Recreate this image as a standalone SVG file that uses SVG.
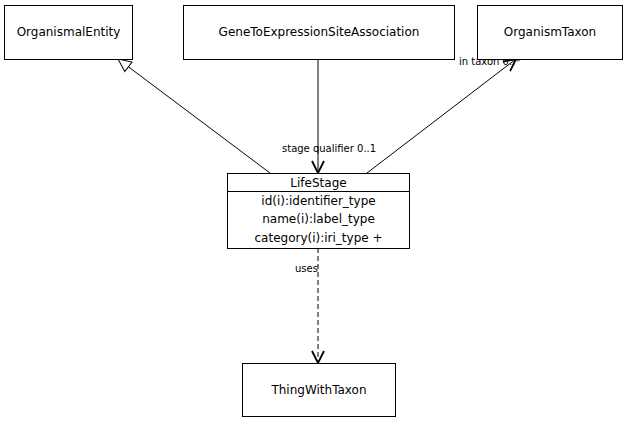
<svg xmlns="http://www.w3.org/2000/svg" width="628" height="423" viewBox="0 0 628 423">
<style>
.box{fill:#fff;stroke:#000;stroke-width:1}
.t{font-family:"DejaVu Sans",sans-serif;font-size:12px;fill:#000;text-anchor:middle}
.l{font-family:"DejaVu Sans",sans-serif;font-size:10px;fill:#000}
.e{fill:none;stroke:#000;stroke-width:1}
</style>
<defs>
<marker id="tri" markerWidth="16" markerHeight="16" refX="14" refY="7" orient="auto" markerUnits="userSpaceOnUse">
<path d="M1,1 L14,7 L1,13 Z" fill="#fff" stroke="#000"/>
</marker>
<marker id="vee" markerWidth="16" markerHeight="16" refX="13" refY="7" orient="auto" markerUnits="userSpaceOnUse">
<path d="M1,1 L13,7 L1,13" fill="none" stroke="#000" stroke-width="1.8"/>
</marker>
</defs>
<rect width="628" height="423" fill="#fff"/>
<g id="connectors">
<line class="e" x1="270" y1="173" x2="118" y2="59" marker-end="url(#tri)"/>
<line class="e" x1="318" y1="59" x2="318" y2="173" marker-end="url(#vee)"/>
<line class="e" x1="367" y1="173" x2="516" y2="59" marker-end="url(#vee)"/>
<line class="e" x1="318" y1="248" x2="318" y2="363" stroke-dasharray="5,3" marker-end="url(#vee)"/>
<text class="l" x="282" y="152">stage qualifier 0..1</text>
<text class="l" x="459" y="65">in taxon 0..*</text>
<text class="l" x="295" y="272">uses</text>
</g>
<g id="OrganismalEntity">
<rect class="box" x="4.5" y="5.5" width="128" height="54"/>
<text class="t" x="68.5" y="36">OrganismalEntity</text>
</g>
<g id="GeneToExpressionSiteAssociation">
<rect class="box" x="183.5" y="5.5" width="271" height="54"/>
<text class="t" x="319" y="36">GeneToExpressionSiteAssociation</text>
</g>
<g id="OrganismTaxon">
<rect class="box" x="477.5" y="5.5" width="145" height="54"/>
<text class="t" x="550" y="36">OrganismTaxon</text>
</g>
<g id="LifeStage">
<rect class="box" x="227.5" y="173.5" width="182" height="75"/>
<line class="e" x1="227.5" y1="191.5" x2="409.5" y2="191.5"/>
<text class="t" x="318.5" y="187">LifeStage</text>
<text class="t" x="318.5" y="205">id(i):identifier_type</text>
<text class="t" x="318.5" y="223">name(i):label_type</text>
<text class="t" x="318.5" y="242">category(i):iri_type +</text>
</g>
<g id="ThingWithTaxon">
<rect class="box" x="242.5" y="363.5" width="153" height="53"/>
<text class="t" x="319" y="394">ThingWithTaxon</text>
</g>
</svg>
